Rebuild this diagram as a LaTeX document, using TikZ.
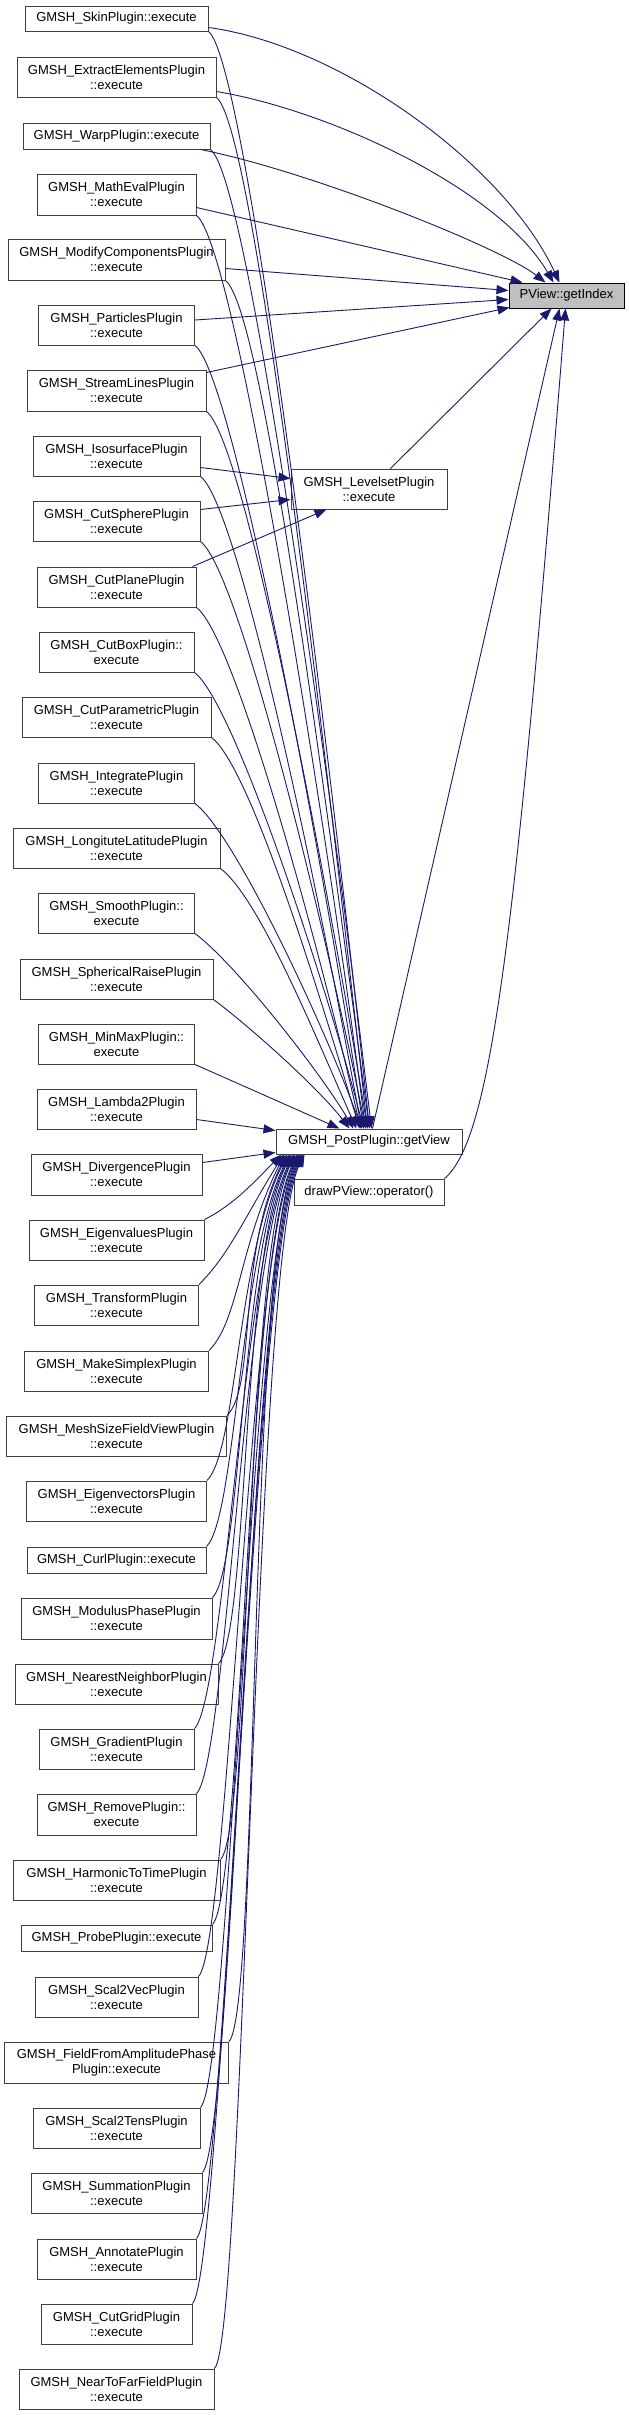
\documentclass[tikz,border=0pt]{standalone}
\usepackage{fontspec}
\setmainfont{Liberation Sans}
\usetikzlibrary{arrows.meta,calc}
\definecolor{edgecol}{HTML}{191970}
\definecolor{boxcol}{HTML}{404040}
\definecolor{hilite}{HTML}{BFBFBF}
\tikzset{
  box/.style={draw=boxcol, line width=1pt, fill=white, inner sep=0pt, align=center,
              font=\fontsize{13}{15}\selectfont},
  call/.style={draw=edgecol, line width=0.9pt, -{Triangle[length=12pt,width=9pt]}}
}
\begin{document}
\begin{tikzpicture}[x=1pt,y=-1pt]
\useasboundingbox (0,0) rectangle (629,2415);
\fill[white] (0,0) rectangle (629,2415);
% left column
\node[box, minimum width=183pt, minimum height=25pt] (n1) at (116.5,18.5) {GMSH\_SkinPlugin::execute};
\node[box, minimum width=199pt, minimum height=40pt] (n2) at (116.5,77) {GMSH\_ExtractElementsPlugin\\::execute};
\node[box, minimum width=187pt, minimum height=26pt] (n3) at (116.5,136) {GMSH\_WarpPlugin::execute};
\node[box, minimum width=159pt, minimum height=41pt] (n4) at (116.5,194.5) {GMSH\_MathEvalPlugin\\::execute};
\node[box, minimum width=217pt, minimum height=41pt] (n5) at (116.5,259.5) {GMSH\_ModifyComponentsPlugin\\::execute};
\node[box, minimum width=156pt, minimum height=40pt] (n6) at (116.5,325) {GMSH\_ParticlesPlugin\\::execute};
\node[box, minimum width=179pt, minimum height=41pt] (n7) at (116.5,390.5) {GMSH\_StreamLinesPlugin\\::execute};
\node[box, minimum width=167pt, minimum height=40pt] (n8) at (116.5,456) {GMSH\_IsosurfacePlugin\\::execute};
\node[box, minimum width=167pt, minimum height=40pt] (n9) at (116.5,521) {GMSH\_CutSpherePlugin\\::execute};
\node[box, minimum width=159pt, minimum height=40pt] (n10) at (116.5,587) {GMSH\_CutPlanePlugin\\::execute};
\node[box, minimum width=155pt, minimum height=40pt] (n11) at (116.5,652) {GMSH\_CutBoxPlugin::\\execute};
\node[box, minimum width=189pt, minimum height=40pt] (n12) at (116.5,717) {GMSH\_CutParametricPlugin\\::execute};
\node[box, minimum width=156pt, minimum height=40pt] (n13) at (116.5,783) {GMSH\_IntegratePlugin\\::execute};
\node[box, minimum width=207pt, minimum height=40pt] (n14) at (116.5,848) {GMSH\_LongituteLatitudePlugin\\::execute};
\node[box, minimum width=156pt, minimum height=40pt] (n15) at (116.5,913) {GMSH\_SmoothPlugin::\\execute};
\node[box, minimum width=193pt, minimum height=40pt] (n16) at (116.5,979) {GMSH\_SphericalRaisePlugin\\::execute};
\node[box, minimum width=156pt, minimum height=40pt] (n17) at (116.5,1044) {GMSH\_MinMaxPlugin::\\execute};
\node[box, minimum width=159pt, minimum height=40pt] (n18) at (116.5,1109) {GMSH\_Lambda2Plugin\\::execute};
\node[box, minimum width=171pt, minimum height=41pt] (n19) at (116.5,1174.5) {GMSH\_DivergencePlugin\\::execute};
\node[box, minimum width=175pt, minimum height=40pt] (n20) at (116.5,1240) {GMSH\_EigenvaluesPlugin\\::execute};
\node[box, minimum width=164pt, minimum height=40pt] (n21) at (116.5,1305) {GMSH\_TransformPlugin\\::execute};
\node[box, minimum width=184pt, minimum height=40pt] (n22) at (116.5,1371) {GMSH\_MakeSimplexPlugin\\::execute};
\node[box, minimum width=220pt, minimum height=40pt] (n23) at (116.5,1436) {GMSH\_MeshSizeFieldViewPlugin\\::execute};
\node[box, minimum width=180pt, minimum height=40pt] (n24) at (116.5,1501) {GMSH\_EigenvectorsPlugin\\::execute};
\node[box, minimum width=179pt, minimum height=26pt] (n25) at (116.5,1560) {GMSH\_CurlPlugin::execute};
\node[box, minimum width=191pt, minimum height=41pt] (n26) at (116.5,1618.5) {GMSH\_ModulusPhasePlugin\\::execute};
\node[box, minimum width=203pt, minimum height=40pt] (n27) at (116.5,1684) {GMSH\_NearestNeighborPlugin\\::execute};
\node[box, minimum width=155pt, minimum height=40pt] (n28) at (116.5,1749) {GMSH\_GradientPlugin\\::execute};
\node[box, minimum width=159pt, minimum height=41pt] (n29) at (116.5,1814.5) {GMSH\_RemovePlugin::\\execute};
\node[box, minimum width=207pt, minimum height=40pt] (n30) at (116.5,1880) {GMSH\_HarmonicToTimePlugin\\::execute};
\node[box, minimum width=191pt, minimum height=26pt] (n31) at (116.5,1938) {GMSH\_ProbePlugin::execute};
\node[box, minimum width=163pt, minimum height=40pt] (n32) at (116.5,1997) {GMSH\_Scal2VecPlugin\\::execute};
\node[box, minimum width=224pt, minimum height=41pt] (n33) at (116.5,2062.5) {GMSH\_FieldFromAmplitudePhase\\Plugin::execute};
\node[box, minimum width=167pt, minimum height=40pt] (n34) at (116.5,2128) {GMSH\_Scal2TensPlugin\\::execute};
\node[box, minimum width=171pt, minimum height=40pt] (n35) at (116.5,2193) {GMSH\_SummationPlugin\\::execute};
\node[box, minimum width=159pt, minimum height=40pt] (n36) at (116.5,2259) {GMSH\_AnnotatePlugin\\::execute};
\node[box, minimum width=151pt, minimum height=40pt] (n37) at (116.5,2324) {GMSH\_CutGridPlugin\\::execute};
\node[box, minimum width=195pt, minimum height=40pt] (n38) at (116.5,2389) {GMSH\_NearToFarFieldPlugin\\::execute};
% right side
\node[box, fill=hilite, draw=black, minimum width=115pt, minimum height=25pt] (pv) at (566.5,295.5) {PView::getIndex};
\node[box, minimum width=156pt, minimum height=40pt] (lv) at (369,489) {GMSH\_LevelsetPlugin\\::execute};
\node[box, minimum width=186pt, minimum height=25pt] (gv) at (369,1141.5) {GMSH\_PostPlugin::getView};
\node[box, minimum width=150pt, minimum height=26pt] (dp) at (369,1192) {drawPView::operator()};

% edges into PView::getIndex
\draw[call] ($(n1.south east)+(0,-4)$) .. controls +(132,18) and +(-55,-118) .. ([xshift=51pt]pv.north west);
\draw[call] ($(n2.south east)+(0,-6)$) .. controls +(114,19) and +(-54,-93) .. ([xshift=45pt]pv.north west);
\draw[call] ($(n3.south east)+(-10,0)$) .. controls +(110,22) and +(-45,-35) .. ([xshift=37pt]pv.north west);
\draw[call] ($(n4.south east)+(0,-8)$) -- ([xshift=14pt]pv.north west);
\draw[call] ($(n5.south east)+(0,-12)$) -- ($(pv.north west)+(0,8)$);
\draw[call] ($(n6.east)+(0,-5)$) -- ($(pv.north west)+(0,17)$);
\draw[call] ($(n7.north east)+(0,3)$) -- ($(pv.south west)+(1,-1)$);
\draw[call] ([xshift=100pt]lv.north west) -- ([xshift=43pt]pv.south west);
\draw[call] ([xshift=97pt]gv.north west) -- ([xshift=51pt]pv.south west);
\draw[call] (dp.north east) .. controls +(46,-39) and +(-51,642) .. ([xshift=57pt]pv.south west);

% edges into GMSH_LevelsetPlugin::execute
\draw[call] ($(n8.south east)+(0,-9)$) -- ($(lv.north west)+(0,10)$);
\draw[call] ($(n9.north east)+(0,9)$) -- ($(lv.south west)+(0,-10)$);
\draw[call] ($(n10.north east)+(-4,0)$) -- ([xshift=36pt]lv.south west);

% upper edges into GMSH_PostPlugin::getView
\draw[call] (n1.south east) .. controls +(40,30) and +(-35,-329) .. ([xshift=94pt]gv.north west);
\draw[call] (n2.south east) .. controls +(40,30) and +(-35,-310) .. ([xshift=92pt]gv.north west);
\draw[call] (n3.south east) .. controls +(40,30) and +(-35,-294) .. ([xshift=96pt]gv.north west);
\draw[call] (n4.south east) .. controls +(40,30) and +(-35,-274) .. ([xshift=90pt]gv.north west);
\draw[call] (n5.south east) .. controls +(40,30) and +(-35,-255) .. ([xshift=94pt]gv.north west);
\draw[call] (n6.south east) .. controls +(40,30) and +(-35,-235) .. ([xshift=88pt]gv.north west);
\draw[call] (n7.south east) .. controls +(40,30) and +(-35,-215) .. ([xshift=92pt]gv.north west);
\draw[call] (n8.south east) .. controls +(40,30) and +(-35,-196) .. ([xshift=86pt]gv.north west);
\draw[call] (n9.south east) .. controls +(40,30) and +(-35,-176) .. ([xshift=90pt]gv.north west);
\draw[call] (n10.south east) .. controls +(40,30) and +(-35,-157) .. ([xshift=85pt]gv.north west);
\draw[call] (n11.south east) .. controls +(40,30) and +(-35,-137) .. ([xshift=88pt]gv.north west);
\draw[call] (n12.south east) .. controls +(40,30) and +(-35,-118) .. ([xshift=84pt]gv.north west);
\draw[call] (n13.south east) .. controls +(40,30) and +(-35,-98) .. ([xshift=86pt]gv.north west);
\draw[call] (n14.south east) .. controls +(40,30) and +(-35,-78) .. ([xshift=81pt]gv.north west);
\draw[call] (n15.south east) .. controls +(40,30) and +(-35,-59) .. ([xshift=78pt]gv.north west);
\draw[call] (n16.south east) .. controls +(40,30) and +(-30,-39) .. ([xshift=74pt]gv.north west);
\draw[call] (n17.south east) -- ([xshift=64pt]gv.north west);
\draw[call] ($(n18.south east)+(0,-10)$) -- ($(gv.north west)+(0,2)$);
\draw[call] ($(n19.north east)+(0,9)$) -- ($(gv.south west)+(0,-2)$);

% lower edges into GMSH_PostPlugin::getView
\draw[call] (n20.north east) .. controls +(30,-15) and +(-25,25) .. ([xshift=6pt]gv.south west);
\draw[call] (n21.north east) .. controls +(30,-30) and +(-40,65) .. ([xshift=8pt]gv.south west);
\draw[call] (n22.north east) .. controls +(30,-30) and +(-45,90) .. ([xshift=9pt]gv.south west);
\draw[call] (n23.north east) .. controls +(30,-30) and +(-50,100) .. ([xshift=11pt]gv.south west);
\draw[call] (n24.north east) .. controls +(30,-30) and +(-50,100) .. ([xshift=12pt]gv.south west);
\draw[call] (n25.north east) .. controls +(30,-30) and +(-50,100) .. ([xshift=14pt]gv.south west);
\draw[call] (n26.north east) .. controls +(30,-30) and +(-50,100) .. ([xshift=15pt]gv.south west);
\draw[call] (n27.north east) .. controls +(30,-30) and +(-50,100) .. ([xshift=16pt]gv.south west);
\draw[call] (n28.north east) .. controls +(30,-30) and +(-50,100) .. ([xshift=18pt]gv.south west);
\draw[call] (n29.north east) .. controls +(30,-30) and +(-50,100) .. ([xshift=19pt]gv.south west);
\draw[call] (n30.north east) .. controls +(30,-30) and +(-50,100) .. ([xshift=20pt]gv.south west);
\draw[call] (n31.north east) .. controls +(30,-30) and +(-50,100) .. ([xshift=22pt]gv.south west);
\draw[call] (n32.north east) .. controls +(30,-30) and +(-50,100) .. ([xshift=23pt]gv.south west);
\draw[call] (n33.north east) .. controls +(30,-30) and +(-50,100) .. ([xshift=24pt]gv.south west);
\draw[call] (n34.north east) .. controls +(30,-30) and +(-50,100) .. ([xshift=25pt]gv.south west);
\draw[call] (n35.north east) .. controls +(30,-30) and +(-50,100) .. ([xshift=26pt]gv.south west);
\draw[call] (n36.north east) .. controls +(30,-30) and +(-50,100) .. ([xshift=27pt]gv.south west);
\draw[call] (n37.north east) .. controls +(30,-30) and +(-50,100) .. ([xshift=28pt]gv.south west);
\draw[call] (n38.north east) .. controls +(30,-30) and +(-50,100) .. ([xshift=29pt]gv.south west);
\end{tikzpicture}
\end{document}
